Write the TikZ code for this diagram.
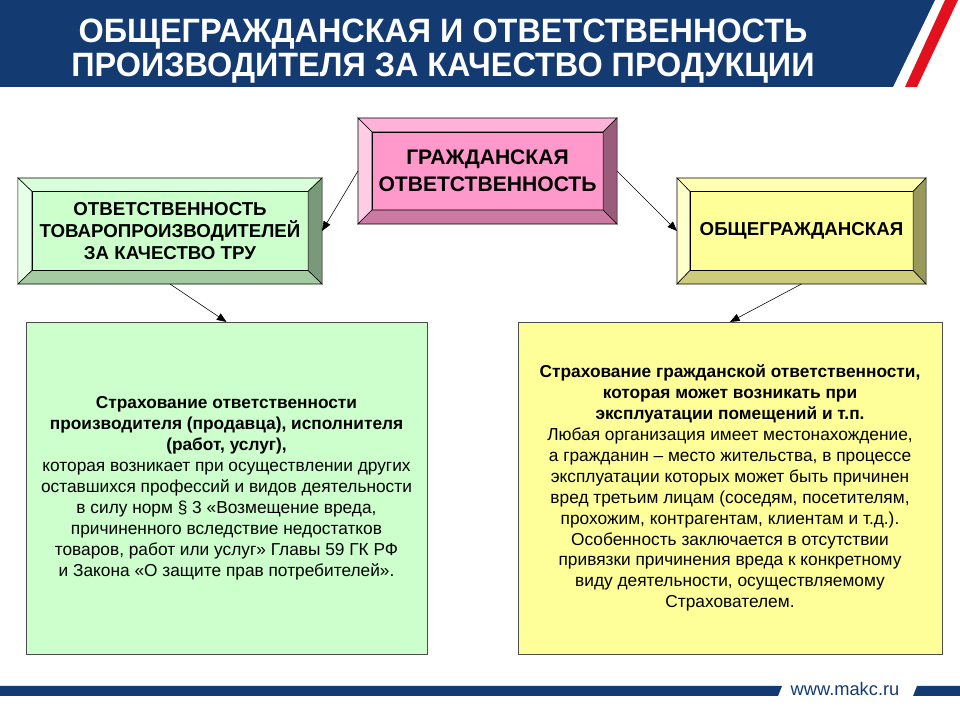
\documentclass[tikz,border=0pt]{standalone}
\usepackage{fontspec}
\setmainfont{Liberation Sans}
\newfontfamily\titlefont[FakeStretch=0.96]{Liberation Sans}
\usetikzlibrary{positioning,arrows.meta,calc}

\definecolor{navy}{HTML}{143A72}
\definecolor{stripe}{HTML}{E3101E}
\definecolor{pinkface}{HTML}{FF99CC}
\definecolor{greenface}{HTML}{CCFFCC}
\definecolor{yellowface}{HTML}{FFFF99}

% four bevel sides between an outer frame node and its face node
\newcommand{\bevel}[3]{%
  \filldraw[fill=#3!75!white, draw=black, thin]
    (#1.north west) -- (#1.north east) -- (#2.north east) -- (#2.north west) -- cycle;
  \filldraw[fill=#3!50!white, draw=black, thin]
    (#1.north west) -- (#2.north west) -- (#2.south west) -- (#1.south west) -- cycle;
  \filldraw[fill=#3!60!black, draw=black, thin]
    (#1.north east) -- (#1.south east) -- (#2.south east) -- (#2.north east) -- cycle;
  \filldraw[fill=#3!80!black, draw=black, thin]
    (#1.south west) -- (#2.south west) -- (#2.south east) -- (#1.south east) -- cycle;
}

\begin{document}
\begin{tikzpicture}[
    x=0.025cm, y=0.025cm,
    font=\fontsize{13.3}{15.6}\selectfont\bfseries,
    frame/.style={inner sep=0pt, outer sep=0pt},
    face/.style={draw, thin, inner sep=0pt, outer sep=0pt, align=center},
    panel/.style={draw=black!70, thin, inner sep=0pt, outer sep=0pt, align=center,
                  font=\normalfont\fontsize{12.3}{14.9}\selectfont},
    link/.style={-{Triangle[length=2.4mm, width=1.9mm]}, thin, black},
  ]
  \useasboundingbox (0,0) rectangle (960,720);

  % header band
  \fill[navy] (0,720) -- (935,720) -- (893,633) -- (0,633) -- cycle;
  \fill[stripe] (945,720) -- (958,720) -- (917,633) -- (905,633) -- cycle;
  \node[text=white, align=center, font=\titlefont\fontsize{24}{24}\selectfont\bfseries]
    (title) at (443,669) {ОБЩЕГРАЖДАНСКАЯ И ОТВЕТСТВЕННОСТЬ\\ПРОИЗВОДИТЕЛЯ ЗА КАЧЕСТВО ПРОДУКЦИИ};

  % footer band
  \fill[navy] (0,34) -- (782,34) -- (778,24) -- (0,24) -- cycle;
  \fill[navy] (917,34) -- (960,34) -- (960,24) -- (913,24) -- cycle;
  \node[text=navy, font=\fontsize{13}{15}\selectfont] (site) at (845,31) {www.makc.ru};

  % top box
  \node[frame, minimum width=6.475cm, minimum height=2.65cm] (civil) at (487.5,549) {};
  \node[face, fill=pinkface, minimum width=5.775cm, minimum height=1.95cm,
        font=\fontsize{15}{19}\selectfont\bfseries]
    (civilface) at (civil) {ГРАЖДАНСКАЯ\\ОТВЕТСТВЕННОСТЬ};
  \bevel{civil}{civilface}{pinkface}

  % left box
  \node[frame, minimum width=7.6cm, minimum height=2.65cm] (maker) at (170,489) {};
  \node[face, fill=greenface, minimum width=6.9cm, minimum height=1.975cm]
    (makerface) at (maker) {ОТВЕТСТВЕННОСТЬ\\ТОВАРОПРОИЗВОДИТЕЛЕЙ\\ЗА КАЧЕСТВО ТРУ};
  \bevel{maker}{makerface}{greenface}

  % right box
  \node[frame, minimum width=6.225cm, minimum height=2.65cm] (general) at (801.5,489) {};
  \node[face, fill=yellowface, minimum width=5.575cm, minimum height=1.975cm]
    (generalface) at (general) {ОБЩЕГРАЖДАНСКАЯ};
  \bevel{general}{generalface}{yellowface}

  % text panels
  \node[panel, fill=greenface, minimum width=10.025cm, minimum height=8.3cm]
    (makerpanel) at (226.5,232) {%
    \textbf{Страхование ответственности}\\
    \textbf{производителя (продавца), исполнителя}\\
    \textbf{(работ, услуг),}\\
    которая возникает при осуществлении других\\
    оставшихся профессий и видов деятельности\\
    в силу норм § 3 «Возмещение вреда,\\
    причиненного вследствие недостатков\\
    товаров, работ или услуг» Главы 59 ГК РФ\\
    и Закона «О защите прав потребителей».};
  \node[panel, fill=yellowface, minimum width=10.6cm, minimum height=8.3cm]
    (generalpanel) at (730,232) {%
    \textbf{Страхование гражданской ответственности,}\\
    \textbf{которая может возникать при}\\
    \textbf{эксплуатации помещений и т.п.}\\
    Любая организация имеет местонахождение,\\
    а гражданин – место жительства, в процессе\\
    эксплуатации которых может быть причинен\\
    вред третьим лицам (соседям, посетителям,\\
    прохожим, контрагентам, клиентам и т.д.).\\
    Особенность заключается в отсутствии\\
    привязки причинения вреда к конкретному\\
    виду деятельности, осуществляемому\\
    Страхователем.};

  \draw[link] (civil.west) -- (maker.east);
  \draw[link] (civil.east) -- (general.west);
  \draw[link] (maker.south) -- (makerpanel.north);
  \draw[link] (general.south) -- (generalpanel.north);
\end{tikzpicture}
\end{document}
